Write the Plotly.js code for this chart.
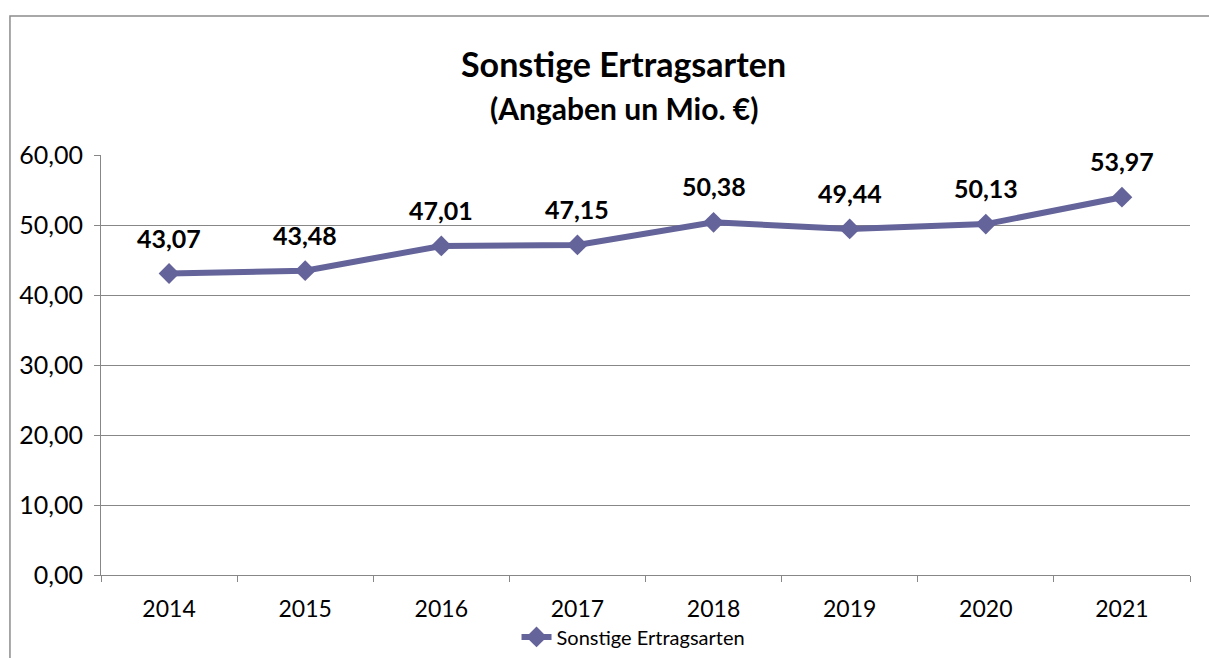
<!DOCTYPE html>
<html>
<head>
<meta charset="utf-8">
<script src="https://cdn.plot.ly/plotly-3.0.1.min.js"></script>
<style>html,body{margin:0;padding:0;background:#fff;}#chart{width:1209px;height:658px;}</style>
</head>
<body>
<div id="chart"></div>
<script>
const years = ["2014", "2015", "2016", "2017", "2018", "2019", "2020", "2021"];
const values = [43.07, 43.48, 47.01, 47.15, 50.38, 49.44, 50.13, 53.97];
const seriesName = "Sonstige Ertragsarten";
const titleText = "Sonstige Ertragsarten";
const subtitleText = "(Angaben un Mio. €)";
const yTicks = [0, 10, 20, 30, 40, 50, 60];

const FONT = "Lato, 'Open Sans', sans-serif";
const lineColor = "rgb(100,99,154)";
const gridColor = "#878787";
const fmt = v => v.toFixed(2).replace(".", ",");

const idx = years.map((_, i) => i);
const bounds = years.map((_, i) => i - 0.5).concat([years.length - 0.5]);

const trace = {
  x: idx, y: values, type: "scatter", mode: "lines+markers", name: seriesName,
  line: {color: lineColor, width: 6},
  marker: {symbol: "diamond", size: 16, color: lineColor},
  hoverinfo: "skip"
};

const annotations = idx.map(i => ({
  x: i, y: values[i], xref: "x", yref: "y", text: "<b>" + fmt(values[i]) + "</b>",
  showarrow: false, yshift: 36, font: {family: FONT, size: 25, color: "#000"}
}));
annotations.push({text: "<b>" + titleText + "</b>", xref: "paper", yref: "paper", x: 0.48, y: 1.218,
  showarrow: false, font: {family: FONT, size: 34, color: "#000"}, yanchor: "middle"});
annotations.push({text: "<b>" + subtitleText + "</b>", xref: "paper", yref: "paper", x: 0.48, y: 1.112,
  showarrow: false, font: {family: FONT, size: 30, color: "#000"}, yanchor: "middle"});

const layout = {
  width: 1209, height: 658,
  margin: {l: 101, r: 19, t: 155, b: 83},
  paper_bgcolor: "#fff", plot_bgcolor: "#fff",
  font: {family: FONT, size: 24, color: "#000"},
  showlegend: true,
  legend: {orientation: "h", x: 0.489, xref: "paper", xanchor: "center", yref: "container", y: 0.032, yanchor: "middle",
    font: {family: FONT, size: 20, color: "#000"}, bgcolor: "rgba(0,0,0,0)"},
  xaxis: {type: "linear", range: [-0.5, years.length - 0.5], tickvals: idx, ticktext: years,
    ticks: "", showline: true, linecolor: gridColor, linewidth: 1, showgrid: false, zeroline: false,
    minor: {tickvals: bounds, ticks: "outside", ticklen: 6, tickcolor: gridColor, showgrid: false},
    tickfont: {family: FONT, size: 23}, ticklabelstandoff: 13, fixedrange: true, automargin: false},
  yaxis: {range: [0, 60], tickvals: yTicks, ticktext: yTicks.map(fmt), ticks: "outside", ticklen: 6,
    tickcolor: gridColor, showline: true, linecolor: gridColor, linewidth: 1,
    showgrid: true, gridcolor: gridColor, gridwidth: 1, zeroline: false,
    tickfont: {family: FONT, size: 25}, ticklabelstandoff: 6, fixedrange: true, automargin: false},
  annotations: annotations,
  shapes: [{type: "rect", xref: "paper", yref: "paper", x0: -0.0836, x1: 1.2, y0: -0.4, y1: 1.331,
    line: {color: "#8c8c8c", width: 1.5}, fillcolor: "rgba(0,0,0,0)", layer: "below"}]
};

Plotly.newPlot("chart", [trace], layout, {displayModeBar: false, staticPlot: true});
</script>
</body>
</html>
